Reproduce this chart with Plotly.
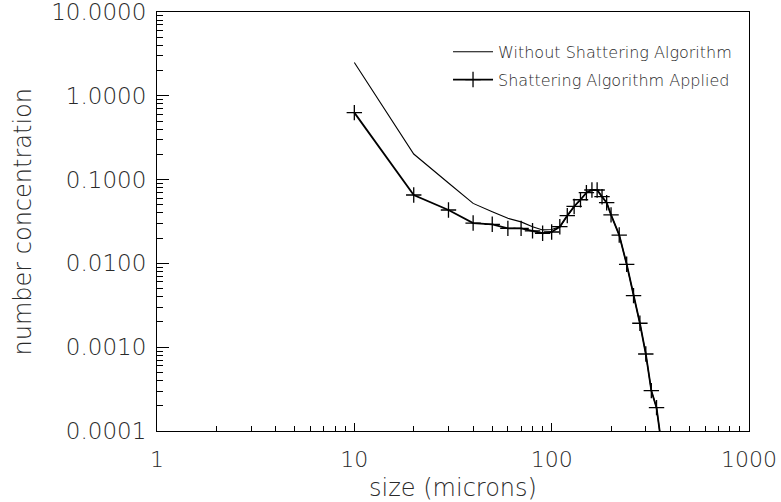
import plotly.graph_objects as go

# particle size bins (microns)
size_without = [10, 20, 30, 40, 50, 60, 70, 80, 90, 100, 110, 120, 130, 140, 150,
                160, 170, 180, 190, 200, 220, 240, 260, 280, 300, 320, 340, 360]
conc_without = [2.5, 0.202, 0.091, 0.052, 0.0414, 0.0345, 0.0313, 0.0274, 0.0251, 0.0254,
                0.0274, 0.0372, 0.0478, 0.0575, 0.0698, 0.0752, 0.0752, 0.0625, 0.053,
                0.0379, 0.0218, 0.00975, 0.00412, 0.00193, 0.00083, 0.000303, 0.00019,
                0.00007]

size_shatter = [10, 20, 30, 40, 50, 60, 70, 80, 90, 100, 110, 120, 130, 140, 150,
                160, 170, 180, 190, 200, 220, 240, 260, 280, 300, 320, 340, 360]
conc_shatter = [0.63, 0.0655, 0.0434, 0.0303, 0.0293, 0.0262, 0.0262, 0.0245, 0.0229,
                0.0237, 0.0274, 0.0372, 0.0478, 0.0575, 0.0698, 0.0752, 0.0752, 0.0625,
                0.053, 0.0379, 0.0218, 0.00975, 0.00412, 0.00193, 0.00083, 0.000303,
                0.00019, 0.00007]

x_ticks = [1, 10, 100, 1000]
x_labels = ["1", "10", "100", "1000"]
y_ticks = [0.0001, 0.001, 0.01, 0.1, 1, 10]
y_labels = ["0.0001", "0.0010", "0.0100", "0.1000", "1.0000", "10.0000"]

x_minor = [m * d for d in [1, 10, 100] for m in range(2, 10)]
y_minor = [m * d for d in [0.0001, 0.001, 0.01, 0.1, 1] for m in range(2, 10)]

x_range = [0, 3.0001]
y_range = [-4, 1.0001]

font_family = "DejaVu Sans"
text_color = "#2a2a2a"

fig = go.Figure()
fig.add_trace(go.Scatter(
    x=size_without, y=conc_without, mode="lines",
    name="Without Shattering Algorithm", legendgroup="a",
    line=dict(color="black", width=1.1),
))
fig.add_trace(go.Scatter(
    x=size_shatter, y=conc_shatter, mode="lines+markers",
    name="Shattering Algorithm Applied", legendgroup="b",
    line=dict(color="black", width=1.8),
    marker=dict(symbol="cross-thin", size=11, line=dict(color="black", width=1.3)),
))

axis_common = dict(
    type="log", showgrid=False, zeroline=False, automargin=False,
    showline=True, linecolor="black", linewidth=1.2,
    mirror=True, ticks="inside", tickcolor="black", tickwidth=1,
    ticklabeloverflow="allow",
)
fig.update_layout(
    xaxis=dict(
        **axis_common, range=x_range, tickvals=x_ticks, ticktext=x_labels,
        ticklen=8, ticklabelstandoff=8,
        tickfont=dict(family=font_family, size=22, color=text_color, weight=200),
        minor=dict(ticks="inside", ticklen=5, tickcolor="black", tickvals=x_minor, showgrid=False),
        title=dict(text="size (microns)", standoff=8,
                   font=dict(family=font_family, size=24, color=text_color, weight=200)),
    ),
    yaxis=dict(
        **axis_common, range=y_range, tickvals=y_ticks, ticktext=y_labels,
        ticklen=12, ticklabelstandoff=5,
        tickfont=dict(family=font_family, size=23, color=text_color, weight=200),
        minor=dict(ticks="inside", ticklen=6, tickcolor="black", tickvals=y_minor, showgrid=False),
    ),
    # tick marks on the top and right edges
    xaxis2=dict(
        type="log", overlaying="x", side="top", range=x_range, showgrid=False,
        zeroline=False, showline=False, ticks="inside", tickcolor="black", tickwidth=1,
        tickvals=x_ticks, ticklen=8, showticklabels=False, automargin=False,
        minor=dict(ticks="inside", ticklen=5, tickcolor="black", tickvals=x_minor, showgrid=False),
    ),
    yaxis2=dict(
        type="log", overlaying="y", side="right", range=y_range, showgrid=False,
        zeroline=False, showline=False, ticks="inside", tickcolor="black", tickwidth=1,
        tickvals=y_ticks, ticklen=12, showticklabels=False, automargin=False,
        minor=dict(ticks="inside", ticklen=6, tickcolor="black", tickvals=y_minor, showgrid=False),
    ),
    annotations=[dict(
        text="number concentration", textangle=-90, showarrow=False,
        xref="paper", yref="paper", x=-0.228, y=0.5, xanchor="center", yanchor="middle",
        font=dict(family=font_family, size=24, color=text_color, weight=200),
    )],
    width=781, height=502,
    margin=dict(l=157, r=32, t=12, b=71),
    plot_bgcolor="white", paper_bgcolor="white",
    showlegend=True,
    legend=dict(x=0.4916, y=0.9455, xanchor="left", yanchor="top",
                traceorder="grouped", tracegroupgap=4, itemwidth=40,
                bgcolor="rgba(0,0,0,0)",
                font=dict(family=font_family, size=16, color=text_color, weight=200)),
)

fig.write_html("out.html", config={"displayModeBar": False},
               post_script="document.body.style.margin='0';")
